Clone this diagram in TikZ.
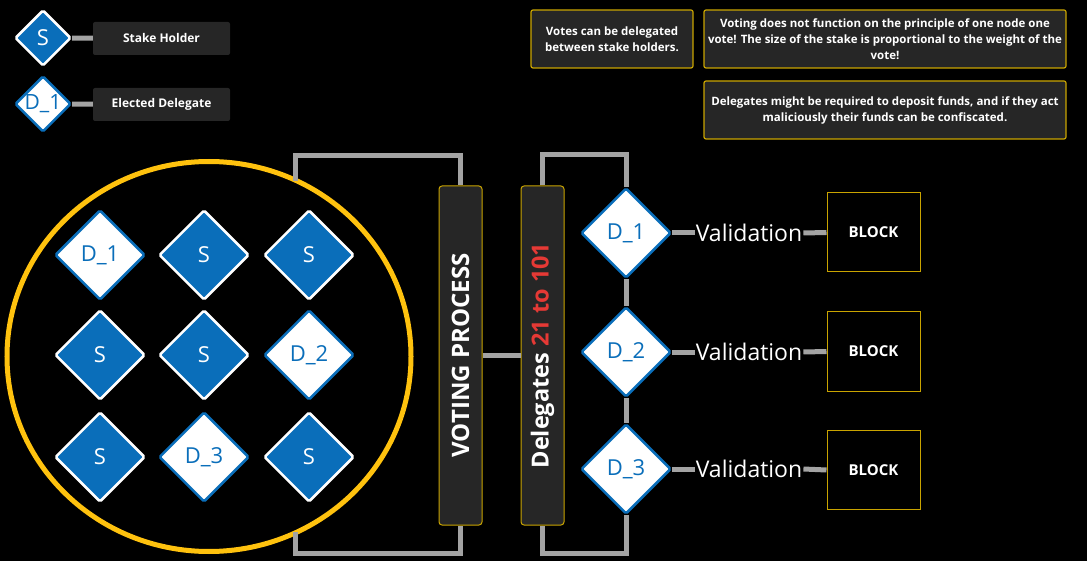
\documentclass[tikz,border=0pt]{standalone}
\usepackage{fontspec}
\usepackage{graphicx}
\setmainfont{Open Sans}
\usetikzlibrary{shapes.geometric}
\definecolor{bluefill}{HTML}{0A6EBA}
\definecolor{graylink}{HTML}{A3A3A3}
\definecolor{gold}{HTML}{C9A400}
\definecolor{darkbox}{HTML}{262626}
\definecolor{ringyellow}{HTML}{FFC20E}
\definecolor{redtext}{HTML}{E53935}
\begin{document}
\begin{tikzpicture}[x=1pt,y=-1pt,
  sdiam/.style={diamond, aspect=1, inner sep=0pt, minimum width=#1, minimum height=#1, rounded corners=1.5pt,
    fill=bluefill, draw=white, line width=2.5pt, text=white, font=\fontsize{22}{22}\selectfont},
  ddiam/.style={diamond, aspect=1, inner sep=0pt, minimum width=#1, minimum height=#1, rounded corners=1.5pt,
    fill=white, draw=bluefill, line width=2.5pt, text=bluefill, font=\fontsize{22}{22}\selectfont},
  legendbox/.style={rectangle, rounded corners=2pt, fill=darkbox, minimum width=137pt, minimum height=33pt,
    text=white, font=\bfseries\fontsize{12}{14}\selectfont},
  notebox/.style={rectangle, rounded corners=2pt, fill=darkbox, draw=gold, line width=1.2pt,
    minimum height=58pt, align=center, text=white, font=\bfseries\fontsize{11.5}{16}\selectfont},
  barbox/.style={rectangle, rounded corners=3pt, fill=darkbox, draw=gold, line width=1pt,
    minimum width=43pt, minimum height=339pt, inner sep=0pt, text=white, font=\bfseries},
  blockbox/.style={rectangle, fill=black, draw=gold, line width=1pt, minimum width=93pt, minimum height=79pt,
    text=white, font=\bfseries\fontsize{15}{15}\selectfont},
  validlbl/.style={inner sep=1pt, text=white, font=\fontsize{23}{23}\selectfont},
  link/.style={draw=graylink, line width=5pt},
]
\fill[black] (0,0) rectangle (1087,561);
\useasboundingbox (0,0) rectangle (1087,561);

% legend
\node[sdiam=56pt] (ls) at (43,38) {S};
\node[legendbox] (lsl) at (161.5,38.5) {Stake Holder};
\node[ddiam=56pt, font=\fontsize{21}{21}\selectfont] (ld) at (43,104) {D\_1};
\node[legendbox] (ldl) at (161.5,104.5) {Elected Delegate};
\draw[link] (ls) -- (lsl);
\draw[link] (ld) -- (ldl);

% notes
\node[notebox, minimum width=162pt] (n1) at (612,39) {Votes can be delegated\\between stake holders.};
\node[notebox, minimum width=362pt] (n2) at (885,39) {Voting does not function on the principle of one node one\\vote! The size of the stake is proportional to the weight of the\\vote!};
\node[notebox, minimum width=362pt] (n3) at (885,110) {Delegates might be required to deposit funds, and if they act\\maliciously their funds can be confiscated.};

% ring
\node[ellipse, draw=ringyellow, line width=5pt, minimum width=404pt, minimum height=390pt] (ring) at (209,356.5) {};

% grid
\node[ddiam=90pt] (g11) at (100,255) {D\_1};
\node[sdiam=90pt] (g12) at (204,255) {S};
\node[sdiam=90pt] (g13) at (309,255) {S};
\node[sdiam=90pt] (g21) at (100,355) {S};
\node[sdiam=90pt] (g22) at (204,355) {S};
\node[ddiam=90pt] (g23) at (309,355) {D\_2};
\node[sdiam=90pt] (g31) at (100,457) {S};
\node[ddiam=90pt] (g32) at (204,457) {D\_3};
\node[sdiam=90pt] (g33) at (309,457) {S};

% bars
\node[barbox, font=\bfseries\fontsize{24}{24}\selectfont] (vp) at (460.5,355.5) {\rotatebox{90}{VOTING PROCESS}};
\node[barbox, font=\bfseries\fontsize{23.5}{23.5}\selectfont] (dl) at (542.5,355.5) {\rotatebox{90}{Delegates \textcolor{redtext}{21 to 101}}};

% delegates
\node[ddiam=90pt] (r1) at (626,233) {D\_1};
\node[ddiam=90pt] (r2) at (626,352) {D\_2};
\node[ddiam=90pt] (r3) at (626,469) {D\_3};

% validation + blocks
\node[validlbl] (v1) at (749,233) {Validation};
\node[validlbl] (v2) at (749,352) {Validation};
\node[validlbl] (v3) at (749,469) {Validation};
\node[blockbox] (b1) at (873.5,232.5) {BLOCK};
\node[blockbox] (b2) at (873.5,351.5) {BLOCK};
\node[blockbox] (b3) at (873.5,470) {BLOCK};

% connector coordinates
\coordinate (vtr) at (460.5,156);
\coordinate (vtl) at (295,156);
\coordinate (vtc) at (295,181);
\coordinate (vbr) at (460.5,553);
\coordinate (vbl) at (295,553);
\coordinate (vbc) at (295,532);
\coordinate (dtl) at (542.5,155);
\coordinate (dtr) at (626,155);
\coordinate (dbl) at (542.5,553);
\coordinate (dbr) at (626,553);

\draw[link] (vtc) -- (vtl) -- (vtr) -- (vp.north);
\draw[link] (vbc) -- (vbl) -- (vbr) -- (vp.south);
\draw[link] (vp.east) -- (dl.west);
\draw[link] (dl.north) -- (dtl) -- (dtr) -- (r1.north);
\draw[link] (r1.south) -- (r2.north);
\draw[link] (r2.south) -- (r3.north);
\draw[link] (r3.south) -- (dbr) -- (dbl) -- (dl.south);

\foreach \i in {1,2,3} {
  \draw[link] (r\i.east) -- (v\i.west);
  \draw[link] (v\i.east) -- (b\i.west);
}
\end{tikzpicture}
\end{document}
